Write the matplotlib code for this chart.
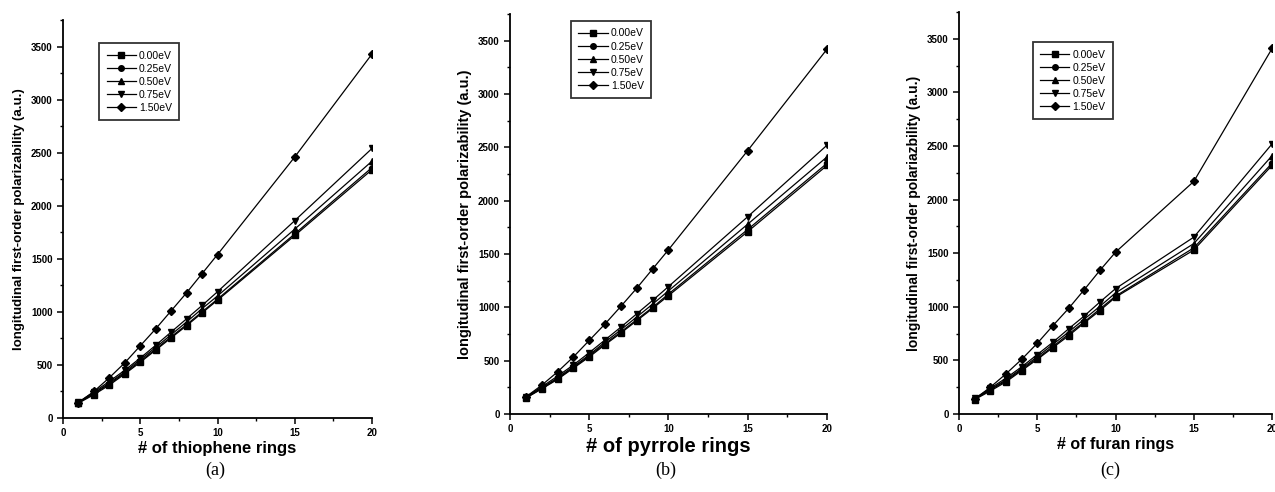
import matplotlib
matplotlib.use("Agg")
import matplotlib.pyplot as plt
from matplotlib.ticker import MultipleLocator

# number of rings
rings = [1, 2, 3, 4, 5, 6, 7, 8, 9, 10, 15, 20]
labels = ['0.00eV', '0.25eV', '0.50eV', '0.75eV', '1.50eV']
markers = ['s', 'o', '^', 'v', 'D']

# (a) thiophene
thio_000 = [140, 220, 310, 415, 525, 640, 755, 870, 990, 1110, 1720, 2340]
thio_025 = [145, 230, 320, 425, 535, 650, 765, 880, 1000, 1120, 1735, 2360]
thio_050 = [145, 235, 330, 435, 550, 665, 785, 905, 1030, 1150, 1780, 2420]
thio_075 = [150, 245, 345, 450, 565, 685, 810, 935, 1060, 1190, 1860, 2540]
thio_150 = [145, 250, 380, 520, 680, 840, 1010, 1180, 1360, 1540, 2460, 3430]

# (b) pyrrole
pyr_000 = [150, 235, 325, 430, 535, 650, 760, 875, 990, 1110, 1710, 2330]
pyr_025 = [150, 240, 330, 435, 545, 660, 770, 885, 1000, 1125, 1730, 2350]
pyr_050 = [155, 245, 340, 445, 555, 675, 790, 910, 1030, 1155, 1780, 2410]
pyr_075 = [160, 255, 355, 460, 575, 695, 815, 940, 1065, 1195, 1850, 2520]
pyr_150 = [160, 270, 395, 535, 690, 845, 1010, 1180, 1360, 1540, 2470, 3420]

# (c) furan
fur_000 = [135, 215, 300, 405, 510, 620, 730, 850, 965, 1090, 1530, 2320]
fur_025 = [140, 225, 310, 415, 520, 630, 745, 860, 980, 1100, 1550, 2340]
fur_050 = [140, 230, 320, 425, 535, 650, 765, 885, 1005, 1130, 1590, 2410]
fur_075 = [145, 240, 335, 440, 555, 670, 795, 915, 1045, 1170, 1650, 2520]
fur_150 = [140, 250, 375, 510, 660, 825, 985, 1160, 1340, 1510, 2170, 3410]

plt.rcParams['font.family'] = ['Liberation Sans', 'DejaVu Sans']

fig = plt.figure(figsize=(12.75, 4.92), dpi=100)

panels = [
    ([0.0494, 0.1504, 0.2424, 0.809], [thio_000, thio_025, thio_050, thio_075, thio_150],
     '# of thiophene rings', 12, 'longitudinal first-order polarizability (a.u.)', 9.5,
     (0.078, 0.912), '(a)', 0.169),
    ([0.400, 0.1585, 0.2486, 0.813], [pyr_000, pyr_025, pyr_050, pyr_075, pyr_150],
     '# of pyrrole rings', 14.5, 'longitudinal first-order polarizability (a.u.)', 10.5,
     (0.448, 0.957), '(b)', 0.522),
    ([0.7522, 0.1585, 0.2455, 0.817], [fur_000, fur_025, fur_050, fur_075, fur_150],
     '# of furan rings', 11.5, 'longitudinal first-order polariazbility (a.u.)', 10,
     (0.810, 0.914), '(c)', 0.871),
]

for rect, series, xlab, xfs, ylab, yfs, legpos, cap, capx in panels:
    ax = fig.add_axes(rect)
    for vals, lab, m in zip(series, labels, markers):
        ax.plot(rings, vals, color='black', lw=0.9, marker=m, ms=4, label=lab)
    ax.set_xlim(0, 20)
    ax.set_ylim(0, 3750)
    ax.xaxis.set_major_locator(MultipleLocator(5))
    ax.xaxis.set_minor_locator(MultipleLocator(2.5))
    ax.yaxis.set_major_locator(MultipleLocator(500))
    ax.yaxis.set_minor_locator(MultipleLocator(250))
    ax.spines['top'].set_visible(False)
    ax.spines['right'].set_visible(False)
    ax.spines['left'].set_linewidth(1.3)
    ax.spines['bottom'].set_linewidth(1.3)
    ax.tick_params(which='major', direction='out', length=4, width=1.1,
                   labelsize=7)
    ax.tick_params(which='minor', direction='out', length=2.5, width=1)
    for t in ax.get_xticklabels() + ax.get_yticklabels():
        t.set_fontweight('bold')
    ax.set_xlabel(xlab, fontsize=xfs, fontweight='bold', labelpad=2)
    ax.set_ylabel(ylab, fontsize=yfs, fontweight='bold', labelpad=4)
    leg = ax.legend(loc='upper left', bbox_to_anchor=legpos, bbox_transform=fig.transFigure,
                    fontsize=7.5, frameon=True, fancybox=False, handlelength=2.8,
                    borderpad=0.7, labelspacing=0.3, handletextpad=0.3,
                    borderaxespad=0)
    leg.get_frame().set_edgecolor('black')
    leg.get_frame().set_linewidth(1.3)
    fig.text(capx, 0.045, cap, ha='center', va='center', fontsize=13,
             family=['Liberation Serif', 'DejaVu Serif'])

fig.savefig('out.png', dpi=100)
